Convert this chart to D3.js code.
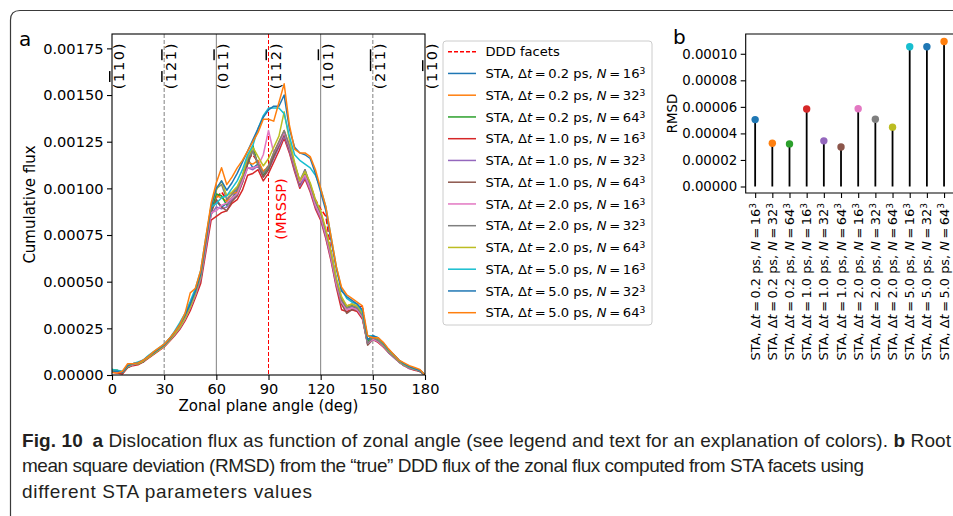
<!DOCTYPE html>
<html>
<head>
<meta charset="utf-8">
<script src="https://cdn.jsdelivr.net/npm/d3@7"></script>
<style>
  body { margin: 0; background: #fff; }
  svg text { font-family: "DejaVu Sans", sans-serif; fill: #000; }
  .caption text { font-family: "Liberation Sans Narrow", "Liberation Sans", sans-serif; fill: #231f20; }
</style>
</head>
<body>
<div id="chart"></div>
<script>
// ---------------- data (flux values in units of 1e-5) ----------------
var angles = [0,3,6,9,12,15,18,21,24,27,30,33,36,39,42,45,48,51,54,57,60,63,66,69,72,75,78,81,84,87,
  90,93,96,99,102,105,108,111,114,117,120,123,126,129,132,135,138,141,144,147,150,153,156,159,162,165,168,171,174,177,180];

var fluxDDD = [2.0,2.0,1.5,5.0,5.5,6.0,7.5,10.0,12.0,14.0, 16.0,19.0,22.5,26.0,31.0,37.0,44.0,53,70,88,
  95,98,94,97,100,106,116,118,114,109, 112,118,124,130,122,112,104,108,102,94,
  89,85,66,51,41,36,37,36,37,18, 20,18.5,16,12.5,10,7.2,5.2,4.0,3.0,2.5, 0];
var fluxA1 = [2.5,1.5,1.0,5.0,5.5,6.5,7.0,10.0,12.0,14.0, 16.5,19.5,22.5,26.5,31.0,37.0,44.0,53,71,89,
  93,90,92,95,99,106,116,111,113,107, 110,117,123,129,121,111,102,107,100,91,
  85,75,63,49,40,36,37,35,31,17, 19,18,15.5,12.5,9.5,7.0,5.0,4.0,3.0,2.0, 0];
var fluxA2 = [1.5,2.5,1.5,4.0,6.0,6.0,8.0,9.5,11.5,13.5, 15.5,18.5,22.0,25.5,30.0,36.0,43.0,51,69,87,
  96,95,93,97,98,104,114,113,115,109, 112,119,125,131,123,113,104,109,102,93,
  87,77,65,51,41,37,38,37,33,19, 21,19,16.5,13,10.5,7.5,5.5,4.0,3.5,2.5, 0];
var fluxA3 = [3.0,2.5,1.0,4.5,6.0,6.5,7.5,10.0,12.0,14.0, 16.0,19.0,22.5,26.0,30.5,36.5,43.5,52,70,88,
  97,96,91,95,97,104,113,123,112,107, 111,118,124,130,122,112,103,108,101,92,
  86,76,64,50,40,36,37,36,32,18, 20,18.5,16,12.5,10,7.2,5.2,4.0,3.0,2.5, 0];
var fluxB1 = [1.5,1.0,0.5,4.0,5.0,5.5,7.0,9.0,11.0,13.0, 15.0,18.0,21.0,24.5,29.0,34.5,41.5,49,66,83,
  85,87,88,92,94,99,107,108,110,104, 108,114,120,127,119,109,100,105,98,89,
  83,73,61,47,35,34,35,34,30,17, 19,17.5,15,12,9.5,7.0,5.0,3.5,2.5,2.0, 0];
var fluxB2 = [2.0,2.0,1.5,4.5,5.5,6.0,7.5,9.5,11.5,13.5, 15.5,18.5,21.5,25.0,30.0,36.0,43.0,51,68,86,
  90,89,90,94,96,103,111,110,112,106, 110,116,122,128,120,110,101,106,99,90,
  84,74,62,48,38,35,36,35,31,17, 19,18,15.5,12,9.5,7.0,5.0,3.5,3.0,2.0, 0];
var fluxB3 = [2.5,2.0,1.0,4.0,5.5,6.0,7.0,9.5,11.5,13.5, 15.5,18.5,22.0,25.5,30.0,36.0,43.0,51,69,87,
  94,90,88,93,96,103,113,120,113,106, 110,117,123,129,121,111,102,110,100,91,
  85,75,63,49,38,33,35,35,31,16, 19,18,15.5,12.5,10,7.0,5.0,4.0,3.0,2.0, 0];
var fluxC1 = [2.0,1.5,1.5,4.5,5.5,6.5,7.5,10.0,12.0,13.5, 15.5,18.5,22.0,25.5,30.0,36.0,43.0,52,69,87,
  88,91,92,95,97,104,111,111,112,118, 131,119,124,130,122,112,103,107,100,91,
  85,75,63,49,39,35,36,35,31,17, 19,18,15.5,12.5,10,7.0,5.0,4.0,3.0,2.5, 0];
var fluxC2 = [2.5,2.0,1.5,4.5,6.0,6.5,7.5,10.0,12.0,14.0, 16.0,19.0,22.5,26.0,31.0,37.0,44.0,53,71,90,
  100,102,94,97,100,106,116,120,113,108, 112,119,125,131,123,113,104,110,102,93,
  87,77,65,51,40,36,37,36,32,17, 20,18.5,16,12.5,10,7.2,5.2,4.0,3.0,2.5, 0];
var fluxC3 = [2.5,2.5,1.5,4.5,6.0,6.0,7.5,9.5,11.5,13.5, 15.5,18.5,22.0,25.5,30.5,36.5,44.0,53,72,91,
  99,104,96,98,101,107,117,122,117,112, 116,122,128,141,126,114,104,109,103,94,
  88,78,66,52,42,37,38,37,33,19, 21,19.5,16.5,13,10.5,7.5,5.5,4.2,3.2,2.5, 0];
var fluxD1 = [3.0,2.5,2.0,5.0,6.0,7.0,8.0,10.5,12.5,14.5, 16.5,19.5,23.5,28.0,33.0,39.5,46.5,56,74,90,
  92,95,96,100,104,110,118,123,132,139, 143,143,143,140,128,118,115,113,111,107,
  100,90,74,58,46,41,39,38,34,21, 21,20,17,13.5,11,8.0,6.0,4.5,3.5,2.5, 0];
var fluxD2 = [2.0,2.0,1.5,5.0,6.0,6.5,8.0,10.0,12.0,14.0, 16.0,19.0,23.0,27.0,32.0,38.0,45.0,54,72,90,
  100,104,99,103,108,114,120,126,132,138, 142,144,144,150,132,122,119,118,116,108,
  98,88,72,57,45,42,40,38,35,19, 21,20,17,13.5,11,8.0,6.0,4.5,3.5,2.5, 0];
var fluxD3 = [1.5,1.0,2.0,6.0,6.0,6.5,8.0,10.0,12.5,14.5, 16.5,19.5,23.0,27.0,33.0,44.0,46.5,56,74,92,
  103,111,102,106,111,115,120,125,130,137, 137,136,146,156,134,121,119,119,117,110,
  100,90,74,58,47,43,41,39,37,21, 20,20,17.5,14,11,8.0,6.5,5.0,4.0,3.0, 0];

var staSeries = [fluxA1, fluxA2, fluxA3, fluxB1, fluxB2, fluxB3, fluxC1, fluxC2, fluxC3, fluxD1, fluxD2, fluxD3];
var staDt = ["0.2","0.2","0.2","1.0","1.0","1.0","2.0","2.0","2.0","5.0","5.0","5.0"];
var staN = ["16","32","64","16","32","64","16","32","64","16","32","64"];
var staColors = ["#1f77b4","#ff7f0e","#2ca02c","#d62728","#9467bd","#8c564b","#e377c2","#7f7f7f","#bcbd22","#17becf","#1f77b4","#ff7f0e"];

// RMSD per STA setting (units of 1e-5)
var rmsd = [5.04, 3.26, 3.21, 5.84, 3.44, 2.98, 5.86, 5.07, 4.47, 10.53, 10.53, 10.93];

// facet reference lines and Miller labels ("~" marks a barred index)
var facetAngles = [0, 30, 60, 90, 120, 150, 180];
var facetLabels = ["~110", "~12~1", "01~1", "11~2", "10~1", "2~1~1", "1~10"];
var xTicksA = [0, 30, 60, 90, 120, 150, 180];
var yTicksA = [0, 25, 50, 75, 100, 125, 150, 175];
var yTicksB = [0, 2, 4, 6, 8, 10];

// ---------------- layout ----------------
var attrs = {
  svgWidth: 953, svgHeight: 516,
  a: { left: 112, right: 425, top: 34, bottom: 375, yMax: 182.7 },
  b: { left: 745.7, right: 953.5, top: 34, bottom: 193 },
  fontA: 14.6, fontB: 13.3, fontBTicks: 12.9, fontLegend: 13.1
};

var svg = d3.select('#chart').append('svg')
  .attr('width', attrs.svgWidth)
  .attr('height', attrs.svgHeight);

// figure frame with rounded top-left corner
svg.append('path')
  .attr('d', 'M10.5,530 L10.5,20 Q10.5,10.5 20,10.5 L970,10.5')
  .attr('fill', 'none').attr('stroke', '#3a3a3a').attr('stroke-width', 1.2);

function styleAxis(g, size) {
  g.select('.domain').remove();
  g.selectAll('.tick line').attr('stroke', '#000').attr('stroke-width', 1.1);
  g.selectAll('.tick text').attr('font-size', size).attr('font-family', '"DejaVu Sans", sans-serif').attr('fill', '#000');
}

function fmt(d) { return (d * 1e-5).toFixed(5); }

// ############ panel a ##############
var A = attrs.a;
var x = d3.scaleLinear().domain([0, 180]).range([A.left, A.right]);
var y = d3.scaleLinear().domain([0, A.yMax]).range([A.bottom, A.top]);

var chartA = svg.append('g').attr('class', 'panel-a');

chartA.append('clipPath').attr('id', 'clipA')
  .append('rect').attr('x', A.left).attr('y', A.top)
  .attr('width', A.right - A.left).attr('height', A.bottom - A.top);

// vertical facet lines
var vStyles = { 30: ['#808080', '4,2'], 60: ['#808080', null], 90: ['#ff0000', '4,2'], 120: ['#808080', null], 150: ['#808080', '4,2'] };
[30, 60, 90, 120, 150].forEach(function (a) {
  chartA.append('line')
    .attr('x1', x(a)).attr('x2', x(a)).attr('y1', A.top).attr('y2', A.bottom)
    .attr('stroke', vStyles[a][0]).attr('stroke-width', 1)
    .attr('stroke-dasharray', vStyles[a][1]);
});

var line = d3.line()
  .x(function (d, i) { return x(angles[i]); })
  .y(function (d) { return y(d); });

var curves = chartA.append('g').attr('clip-path', 'url(#clipA)');
curves.append('path').datum(fluxDDD)
  .attr('d', line).attr('fill', 'none')
  .attr('stroke', '#ff0000').attr('stroke-width', 1.5).attr('stroke-dasharray', '5.5,2.4');
staSeries.forEach(function (s, k) {
  curves.append('path').datum(s)
    .attr('d', line).attr('fill', 'none')
    .attr('stroke', staColors[k]).attr('stroke-width', 1.5)
    .attr('stroke-linejoin', 'round');
});

// axes
var xAxisA = chartA.append('g').attr('transform', 'translate(0,' + A.bottom + ')')
  .call(d3.axisBottom(x).tickValues(xTicksA).tickSize(5).tickPadding(3.5).tickSizeOuter(0));
styleAxis(xAxisA, attrs.fontA);
var yAxisA = chartA.append('g').attr('transform', 'translate(' + A.left + ',0)')
  .call(d3.axisLeft(y).tickValues(yTicksA).tickFormat(fmt).tickSize(5).tickPadding(3.5).tickSizeOuter(0));
styleAxis(yAxisA, attrs.fontA);

chartA.append('rect')
  .attr('x', A.left).attr('y', A.top)
  .attr('width', A.right - A.left).attr('height', A.bottom - A.top)
  .attr('fill', 'none').attr('stroke', '#000').attr('stroke-width', 1.1);

// facet labels (rotated), barred digits get an overline
facetAngles.forEach(function (a, i) {
  var t = chartA.append('text')
    .attr('transform', 'translate(' + (x(a) + 12) + ',' + (A.top + 8) + ') rotate(-90)')
    .attr('text-anchor', 'end')
    .attr('font-size', attrs.fontA)
    .attr('letter-spacing', 1.6);
  t.append('tspan').text('(');
  var s = facetLabels[i], bar = false;
  for (var c = 0; c < s.length; c++) {
    if (s[c] === '~') { bar = true; continue; }
    var ts = t.append('tspan').text(s[c]);
    if (bar) ts.style('text-decoration', 'overline').style('text-decoration-thickness', '2px');
    bar = false;
  }
  t.append('tspan').text(')');
});

chartA.append('text')
  .attr('transform', 'translate(' + (x(90) + 17.5) + ',209) rotate(-90)')
  .attr('text-anchor', 'middle')
  .attr('font-size', attrs.fontA)
  .style('fill', '#ff0000')
  .text('(MRSSP)');

chartA.append('text')
  .attr('x', (A.left + A.right) / 2).attr('y', 411)
  .attr('text-anchor', 'middle').attr('font-size', 15)
  .text('Zonal plane angle (deg)');
chartA.append('text')
  .attr('transform', 'translate(35,' + ((A.top + A.bottom) / 2) + ') rotate(-90)')
  .attr('text-anchor', 'middle').attr('font-size', 15)
  .text('Cumulative flux');

chartA.append('text').attr('x', 19).attr('y', 46).attr('font-size', 20).text('a');

// legend
function staLabel(sel, dt, n) {
  sel.append('tspan').text('STA, \u0394');
  sel.append('tspan').attr('font-style', 'italic').text('t');
  sel.append('tspan').text('\u2009=\u2009' + dt + ' ps, ');
  sel.append('tspan').attr('font-style', 'italic').text('N');
  sel.append('tspan').text('\u2009=\u2009' + n);
  sel.append('tspan').attr('font-size', '70%').attr('dy', '-0.45em').text('3');
}

var legend = chartA.append('g').attr('class', 'legend');
legend.append('rect')
  .attr('x', 443).attr('y', 41).attr('width', 209).attr('height', 284).attr('rx', 3)
  .attr('fill', '#fff').attr('fill-opacity', 0.8).attr('stroke', '#cccccc').attr('stroke-width', 1);

var legendItems = [{ color: '#ff0000', dash: '4,2' }].concat(staColors.map(function (c) { return { color: c, dash: null }; }));
legendItems.forEach(function (d, i) {
  var cy = 51.7 + i * 21.75;
  legend.append('line')
    .attr('x1', 448).attr('x2', 476).attr('y1', cy).attr('y2', cy)
    .attr('stroke', d.color).attr('stroke-width', 1.5).attr('stroke-dasharray', d.dash);
  var t = legend.append('text').attr('x', 485.5).attr('y', cy + 4.7).attr('font-size', attrs.fontLegend);
  if (i === 0) t.text('DDD facets');
  else staLabel(t, staDt[i - 1], staN[i - 1]);
});

// ############ panel b ##############
var B = attrs.b;
var xb = d3.scaleLinear().domain([-0.55, 11.55]).range([B.left, B.right]);
var yb = d3.scaleLinear().domain([-0.49, 11.49]).range([B.bottom, B.top]);

var chartB = svg.append('g').attr('class', 'panel-b');

var yAxisB = chartB.append('g').attr('transform', 'translate(' + B.left + ',0)')
  .call(d3.axisLeft(yb).tickValues(yTicksB).tickFormat(fmt).tickSize(5).tickPadding(3.5).tickSizeOuter(0));
styleAxis(yAxisB, attrs.fontB);
var xAxisB = chartB.append('g').attr('transform', 'translate(0,' + B.bottom + ')')
  .call(d3.axisBottom(xb).tickValues(d3.range(rmsd.length)).tickFormat('').tickSize(5).tickSizeOuter(0));
styleAxis(xAxisB, attrs.fontB);

chartB.append('path')
  .attr('d', 'M' + B.right + ',' + B.top + 'H' + B.left + 'V' + B.bottom + 'H' + B.right)
  .attr('fill', 'none').attr('stroke', '#000').attr('stroke-width', 1.1);

chartB.selectAll('.stem').data(rmsd).enter().append('line')
  .attr('class', 'stem')
  .attr('x1', function (d, i) { return xb(i); }).attr('x2', function (d, i) { return xb(i); })
  .attr('y1', yb(0)).attr('y2', function (d) { return yb(d); })
  .attr('stroke', '#000').attr('stroke-width', 1.8);

chartB.selectAll('.dot').data(rmsd).enter().append('circle')
  .attr('class', 'dot')
  .attr('cx', function (d, i) { return xb(i); })
  .attr('cy', function (d) { return yb(d); })
  .attr('r', 3.7)
  .attr('fill', function (d, i) { return staColors[i]; });

rmsd.forEach(function (d, i) {
  var t = chartB.append('text')
    .attr('transform', 'translate(' + (xb(i) + 4.5) + ',' + (B.bottom + 10) + ') rotate(-90)')
    .attr('text-anchor', 'end')
    .attr('font-size', attrs.fontBTicks);
  staLabel(t, staDt[i], staN[i]);
});

chartB.append('text')
  .attr('transform', 'translate(677,' + ((B.top + B.bottom) / 2) + ') rotate(-90)')
  .attr('text-anchor', 'middle').attr('font-size', attrs.fontB)
  .text('RMSD');
chartB.append('text').attr('x', 673).attr('y', 44).attr('font-size', 20).text('b');

// ############ caption ##############
var cap = svg.append('g').attr('class', 'caption');
var l1 = cap.append('text').attr('x', 22).attr('y', 447).attr('font-size', 19)
  .attr('textLength', 929).attr('lengthAdjust', 'spacing');
l1.append('tspan').attr('font-weight', 'bold').text('Fig. 10');
l1.append('tspan').text('\u2002');
l1.append('tspan').attr('font-weight', 'bold').text('a');
l1.append('tspan').text(' Dislocation flux as function of zonal angle (see legend and text for an explanation of colors). ');
l1.append('tspan').attr('font-weight', 'bold').text('b');
l1.append('tspan').text(' Root');
cap.append('text').attr('x', 22).attr('y', 472).attr('font-size', 19)
  .attr('textLength', 842).attr('lengthAdjust', 'spacing')
  .text('mean square deviation (RMSD) from the \u201ctrue\u201d DDD flux of the zonal flux computed from STA facets using');
cap.append('text').attr('x', 22).attr('y', 498).attr('font-size', 19)
  .attr('textLength', 290).attr('lengthAdjust', 'spacing')
  .text('different STA parameters values');
</script>
</body>
</html>
